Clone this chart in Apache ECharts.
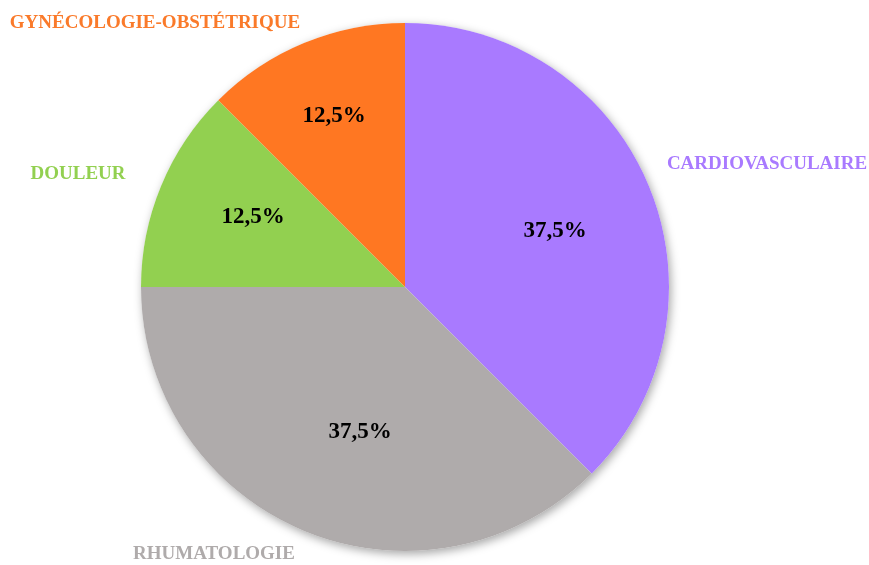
<!DOCTYPE html>
<html>
<head>
<meta charset="utf-8">
<script src="https://cdn.jsdelivr.net/npm/echarts@6/dist/echarts.min.js"></script>
<style>
  html, body { margin: 0; padding: 0; background: #ffffff; }
  #chart { width: 869px; height: 565px; }
</style>
</head>
<body>
<div id="chart"></div>
<script>
// Répartition par spécialité (%)
const categories = ['CARDIOVASCULAIRE', 'RHUMATOLOGIE', 'DOULEUR', 'GYNÉCOLOGIE-OBSTÉTRIQUE'];
const shares = [37.5, 37.5, 12.5, 12.5];
const colors = ['#A97AFF', '#AFABAB', '#92D050', '#FF7722'];
const nameColors = ['#A97AFF', '#AFABAB', '#92D050', '#FA7A2A'];

// Placement of the value labels and category names (px)
const valueLabelPos = [[555, 231], [360, 432], [253, 217], [334, 116]];
const nameLabelPos = [[767, 164], [214, 554], [78, 174], [155, 23]];

const center = [405, 287];
const radius = 264;
const serif = '"Liberation Serif", "Times New Roman", serif';

const pieData = categories.map((c, i) => ({
  name: c,
  value: shares[i],
  itemStyle: { color: colors[i] }
}));

const chart = echarts.init(document.getElementById('chart'), null, { renderer: 'canvas' });

chart.setOption({
  backgroundColor: '#ffffff',
  animation: false,
  series: [
    {
      // soft shadow under the whole disc
      type: 'pie',
      silent: true,
      z: 1,
      center: center,
      radius: radius,
      startAngle: 90,
      label: { show: false },
      labelLine: { show: false },
      data: [{ value: 1, itemStyle: { color: '#ffffff', shadowBlur: 10, shadowOffsetX: 2, shadowOffsetY: 3, shadowColor: 'rgba(0,0,0,0.35)' } }]
    },
    {
      type: 'pie',
      z: 2,
      center: center,
      radius: radius,
      startAngle: 90,
      clockwise: true,
      avoidLabelOverlap: false,
      itemStyle: { borderWidth: 0 },
      label: {
        show: true,
        position: 'inside',
        fontFamily: serif,
        fontWeight: 'bold',
        fontSize: 23,
        color: '#000000',
        formatter: p => shares[p.dataIndex].toFixed(1).replace('.', ',') + '%'
      },
      labelLine: { show: false },
      labelLayout: p => ({
        x: valueLabelPos[p.dataIndex][0],
        y: valueLabelPos[p.dataIndex][1],
        align: 'center',
        verticalAlign: 'middle'
      }),
      data: pieData
    },
    {
      // category names around the disc
      type: 'pie',
      z: 3,
      silent: true,
      center: center,
      radius: radius,
      startAngle: 90,
      avoidLabelOverlap: false,
      itemStyle: { color: 'rgba(0,0,0,0)' },
      label: {
        show: true,
        position: 'outside',
        fontFamily: serif,
        fontWeight: 'bold',
        fontSize: 19,
        formatter: p => p.name,
        color: 'inherit'
      },
      labelLine: { show: false },
      labelLayout: p => ({
        x: nameLabelPos[p.dataIndex][0],
        y: nameLabelPos[p.dataIndex][1],
        align: 'center',
        verticalAlign: 'middle'
      }),
      data: categories.map((c, i) => ({
        name: c,
        value: shares[i],
        itemStyle: { color: 'rgba(0,0,0,0)' },
        label: { color: nameColors[i] }
      }))
    }
  ]
});
</script>
</body>
</html>
